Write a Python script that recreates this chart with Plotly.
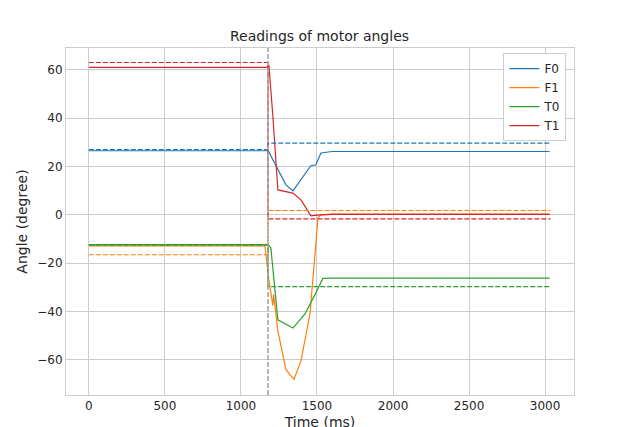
import plotly.graph_objects as go

# Measured angles (solid) and commanded angles (dashed)
names = ["F0", "F1", "T0", "T1"]
colors = ["#1f77b4", "#ff7f0e", "#2ca02c", "#d62728"]

f0_t = [0, 1180, 1210, 1296, 1342, 1460, 1493, 1526, 1600, 3030]
f0_v = [26.5, 26.5, 22.8, 12.4, 9.9, 20.3, 20.7, 25.6, 26.2, 26.2]
f1_t = [0, 1158, 1184, 1210, 1215, 1243, 1296, 1349, 1395, 1454, 1507, 1526, 1600, 3030]
f1_v = [-12.8, -12.8, -27.0, -37.6, -33.0, -48.0, -64.0, -68.0, -60.4, -41.0, -1.2, 0.0, 0.3, 0.3]
t0_t = [0, 1180, 1197, 1243, 1342, 1421, 1487, 1539, 1600, 3030]
t0_v = [-12.3, -12.3, -13.7, -43.4, -46.8, -41.0, -33.0, -26.3, -26.2, -26.2]
t1_t = [0, 1170, 1184, 1210, 1243, 1342, 1395, 1460, 1520, 1600, 3030]
t1_v = [61.0, 61.0, 62.0, 41.0, 10.3, 9.0, 6.2, -0.4, 0.0, 0.2, 0.2]

switch_ms = 1178
end_ms = 3035
cmd_before = [27.0, -16.5, -12.5, 63.0]
cmd_after = [29.7, 1.8, -29.7, -1.7]

series = [(f0_t, f0_v), (f1_t, f1_v), (t0_t, t0_v), (t1_t, t1_v)]

fig = go.Figure()
for name, col, (t, v) in zip(names, colors, series):
    fig.add_trace(go.Scatter(x=t, y=v, mode="lines", name=name,
                             line=dict(color=col, width=1.2)))
for col, b, a in zip(colors, cmd_before, cmd_after):
    fig.add_trace(go.Scatter(x=[0, switch_ms, switch_ms, end_ms], y=[b, b, a, a],
                             mode="lines", showlegend=False,
                             line=dict(color=col, width=1.2, dash="5px,2px")))

fig.add_vline(x=switch_ms, line=dict(color="#a0a0a0", width=1.5, dash="5px,2px"))

axis = dict(showgrid=True, gridcolor="#cccccc", zeroline=False, showline=True,
            linecolor="#cccccc", ticks="", tickfont=dict(size=12, color="#262626"),
            mirror=True, automargin=False)
fig.update_layout(
    width=623, height=427,
    paper_bgcolor="white", plot_bgcolor="white",
    font=dict(family="DejaVu Sans", color="#262626"),
    title=dict(text="Readings of motor angles", x=0.5, y=0.945, xanchor="center",
               font=dict(size=14)),
    margin=dict(l=58, r=57, t=40, b=40),
    xaxis=dict(axis, range=[-150, 3190], dtick=500,
               title=dict(text="Time (ms)", font=dict(size=14), standoff=4)),
    yaxis=dict(axis, range=[-74.5, 69], dtick=20,
               title=dict(text="Angle (degree)", font=dict(size=14), standoff=6)),
    legend=dict(x=0.985, y=0.985, xanchor="right", yanchor="top",
                bordercolor="#cccccc", borderwidth=1, bgcolor="white",
                font=dict(size=12)),
)

fig.write_html("out.html")
